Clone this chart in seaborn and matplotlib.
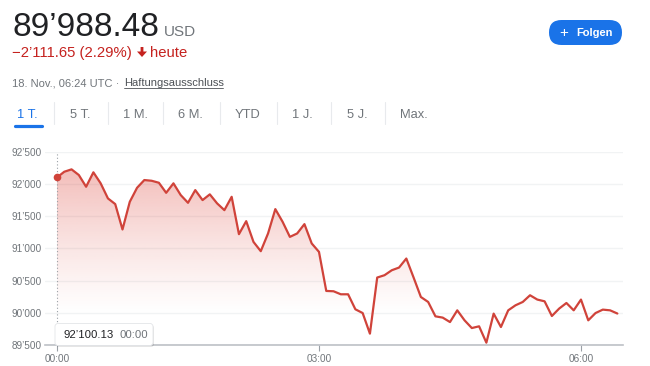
import numpy as np
import pandas as pd
import matplotlib
matplotlib.use("Agg")
import matplotlib.pyplot as plt
from matplotlib.patches import FancyBboxPatch, Polygon
from matplotlib.lines import Line2D
from matplotlib.transforms import Affine2D
import seaborn as sns

# ---------------- data ----------------
minutes = list(range(0, 390, 5))  # 00:00 .. 06:25, 5-minute steps
prices = [
    92100.13, 92189, 92226, 92138, 91956, 92180, 92009, 91775, 91687, 91293,
    91722, 91940, 92060, 92049, 92018, 91862, 92009, 91827, 91707, 91904,
    91749, 91838, 91698, 91593, 91800, 91220, 91422, 91100, 90956, 91231,
    91609, 91412, 91178, 91231, 91376, 91076, 90945, 90339, 90334, 90287,
    90287, 90054, 89996, 89676, 90547, 90583, 90660, 90702, 90842, 90547,
    90245, 90168, 89945, 89925, 89856, 90038, 89883, 89763, 89790, 89536,
    89987, 89779, 90038, 90116, 90168, 90272, 90205, 90178, 89950, 90065,
    90152, 90038, 90205, 89883, 89996, 90049, 90038, 89988.48,
]
y_ticks = [89500, 90000, 90500, 91000, 91500, 92000, 92500]
y_tick_labels = ["89’500", "90’000", "90’500", "91’000", "91’500", "92’000", "92’500"]
x_ticks = [0, 180, 360]
x_tick_labels = ["00:00", "03:00", "06:00"]
tabs = ["1 T.", "5 T.", "1 M.", "6 M.", "YTD", "1 J.", "5 J.", "Max."]

price_text = "89’988.48"
currency = "USD"
change_text = "−2’111.65 (2.29%)"
tooltip_value = "92’100.13"
tooltip_time = "00:00"

df = pd.DataFrame({"minute": minutes, "price": prices})

# ---------------- style ----------------
sns.set_theme(style="white")
plt.rcParams["font.family"] = ["Liberation Sans", "DejaVu Sans"]

W, H = 650, 366
fig = plt.figure(figsize=(W / 100, H / 100), dpi=100)
fig.patch.set_facecolor("white")

# pixel transform (x from left, y from top)
PX = Affine2D().scale(1, -1).translate(0, H)


def ftext(x, y, s, **kw):
    return fig.text(x, y, s, transform=PX, **kw)


RED = "#d0433a"
GRAY = "#70757a"
DARK = "#202124"
BLUE = "#1a73e8"
CHG = "#c5221f"

# ---------------- axes ----------------
ax_left, ax_right, ax_top, ax_bottom = 45, 623, 151.7, 345
ax = fig.add_axes([ax_left / W, 1 - ax_bottom / H,
                   (ax_right - ax_left) / W, (ax_bottom - ax_top) / H])
ax.set_facecolor("white")

px_per_hour = 87.33
xmin = (ax_left - 57) / px_per_hour * 60
xmax = (ax_right - 57) / px_per_hour * 60

# gradient fill under the line
poly = ax.fill_between(df["minute"], df["price"], 89500, color="none", lw=0)
vals = np.linspace(89500, 92300, 256)
alpha = 0.32 * np.clip((vals - 89950) / (92250 - 89950), 0, 1) ** 1.2
grad = np.zeros((256, 1, 4))
grad[..., 0] = 0xd9 / 255
grad[..., 1] = 0x30 / 255
grad[..., 2] = 0x25 / 255
grad[:, 0, 3] = alpha
im = ax.imshow(grad, extent=[xmin, xmax, 89500, 92300], aspect="auto",
               origin="lower", zorder=1, interpolation="bilinear")
im.set_clip_path(poly.get_paths()[0], transform=ax.transData)

sns.lineplot(data=df, x="minute", y="price", ax=ax, color=RED, linewidth=1.6,
             zorder=3)
ax.axvline(0, color="#9aa0a6", linestyle=(0, (1, 2)), linewidth=0.8, zorder=2)
ax.plot([df["minute"][0]], [df["price"][0]], "o", color=RED, markersize=5.5,
        zorder=4, markeredgewidth=0)

ax.set_xlim(xmin, xmax)
ax.set_ylim(89500, 92500)
ax.set_yticks(y_ticks)
ax.set_yticklabels(y_tick_labels)
ax.set_xticks(x_ticks)
ax.set_xticklabels(x_tick_labels)
ax.set_xlabel("")
ax.set_ylabel("")
ax.yaxis.grid(True, color="#f1f3f4", linewidth=1)
ax.xaxis.grid(False)
ax.tick_params(axis="y", length=0, pad=2, labelsize=7.2, labelcolor=GRAY)
ax.tick_params(axis="x", length=4.3, width=0.8, color="#9aa0a6", pad=2.5,
               labelsize=7.2, labelcolor=GRAY, bottom=True)
for s in ["top", "right", "left"]:
    ax.spines[s].set_visible(False)
ax.spines["bottom"].set_color("#bdc1c6")
ax.spines["bottom"].set_linewidth(1.2)
ax.spines["bottom"].set_zorder(5)

# ---------------- tooltip ----------------
shadow = FancyBboxPatch((56, 325), 98, 22, boxstyle="round,pad=0,rounding_size=3",
                        transform=PX, facecolor="#000000", alpha=0.10,
                        edgecolor="none", zorder=9)
fig.patches.append(shadow)
tip = FancyBboxPatch((55, 323.5), 98, 22, boxstyle="round,pad=0,rounding_size=3",
                     transform=PX, facecolor="white", edgecolor="#e3e5e8",
                     linewidth=0.6, zorder=10)
fig.patches.append(tip)
ftext(63, 338, tooltip_value, fontsize=8.2, color=DARK, zorder=11)
ftext(120, 338, tooltip_time, fontsize=8.2, color=GRAY, zorder=11)

# ---------------- header ----------------
ftext(12.5, 36, price_text, fontsize=24, color=DARK)
ftext(164, 36, currency, fontsize=11, color=GRAY)
ftext(12, 57, change_text, fontsize=10.7, color=CHG)
arrow = Polygon([(140.6, 47), (143.4, 47), (143.4, 51.5), (147, 51.5),
                 (142, 57), (137, 51.5), (140.6, 51.5)], closed=True,
                transform=PX, facecolor=CHG, edgecolor="none")
fig.patches.append(arrow)
ftext(150, 57, "heute", fontsize=10.7, color=CHG)

ftext(12.5, 86, "18. Nov., 06:24 UTC · ", fontsize=8, color=GRAY)
ftext(124, 86, "Haftungsausschluss", fontsize=8, color="#4d5156")
fig.lines.append(Line2D([124, 223], [88, 88], transform=PX, color="#4d5156",
                        linewidth=0.6))

# tabs
tab_x = [17, 70, 123, 178, 235, 292, 347, 400]
sep_x = [54, 108, 163, 220, 277, 331, 385]
for i, (lab, x) in enumerate(zip(tabs, tab_x)):
    ftext(x, 118.5, lab, fontsize=9.3, color=BLUE if i == 0 else GRAY)
for x in sep_x:
    fig.lines.append(Line2D([x, x], [102, 124], transform=PX, color="#e8eaed",
                            linewidth=0.8))
fig.lines.append(Line2D([14.5, 41.5], [125.5, 125.5], transform=PX, color=BLUE,
                        linewidth=2.3, solid_capstyle="round"))

# Folgen button
btn = FancyBboxPatch((549, 20), 73, 25, boxstyle="round,pad=0,rounding_size=12.5",
                     transform=PX, facecolor=BLUE, edgecolor="none", zorder=5)
fig.patches.append(btn)
ftext(563.5, 33, "+", fontsize=11, color="white", ha="center", va="center",
      zorder=6)
ftext(576, 33, "Folgen", fontsize=8, color="white", fontweight="bold",
      va="center", zorder=6)

fig.savefig("out.png", dpi=100, facecolor="white")
